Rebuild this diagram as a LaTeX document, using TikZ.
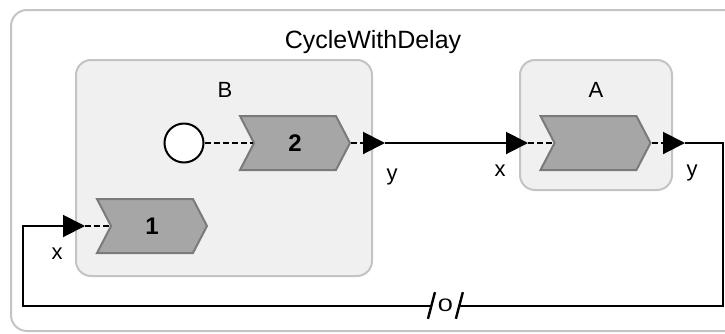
\documentclass[tikz,border=0pt]{standalone}
\usepackage{fontspec}
\setmainfont{Liberation Sans}
\usetikzlibrary{arrows.meta,shapes.symbols}
\definecolor{frame}{HTML}{C4C4C4}
\definecolor{boxfill}{HTML}{F0F0F0}
\definecolor{chevfill}{HTML}{A6A6A6}
\definecolor{chevline}{HTML}{7A7A7A}
\tikzset{
  wire/.style={line width=2pt, black},
  dwire/.style={wire, dash pattern=on 6pt off 3pt},
  porttip/.style={-{Triangle[length=22pt,width=22pt]}},
  container/.style={draw=frame, fill=boxfill, line width=2pt, rounded corners=15pt, inner sep=0pt},
  reaction/.style={signal, signal to=east, signal from=west, signal pointer angle=125,
    draw=chevline, fill=chevfill, line width=2pt, minimum width=110pt, minimum height=54pt,
    inner sep=0pt, font=\bfseries\fontsize{24}{24}\selectfont},
  lbl/.style={font=\fontsize{22}{22}\selectfont, inner sep=0pt},
}
\begin{document}
\begin{tikzpicture}[x=1pt,y=-1pt]
\useasboundingbox (0,0) rectangle (725,333);
% outer reactor
\draw[draw=frame, line width=2pt, rounded corners=16pt, fill=white] (11,10) rectangle (760,331);
\node[lbl, font=\fontsize{25}{25}\selectfont] (title) at (373,42) {CycleWithDelay};

% inner reactors
\node[container, minimum width=296pt, minimum height=216pt] (B) at (224,168) {};
\node[container, minimum width=152pt, minimum height=130pt] (A) at (596,125) {};
\node[lbl] (Bname) at (225,90) {B};
\node[lbl] (Aname) at (596,90) {A};

% startup trigger and reactions
\node[draw, circle, fill=white, line width=2pt, minimum size=39pt, inner sep=0pt] (start) at (184,143) {};
\node[reaction] (r2) at (295,143) {2};
\node[reaction] (r1) at (152,226) {1};
\node[reaction] (rA) at (595.5,143) {};

% port tips and corners
\coordinate (Bout) at (385,143);
\coordinate (Ain) at (528,143);
\coordinate (Aout) at (685,143);
\coordinate (in1) at (85,226);
\coordinate (turnR) at (723,143);
\coordinate (turnL) at (23,305.5);

% delay marker on the feedback connection
\node[fill=white, inner sep=0pt, minimum width=27.5pt, minimum height=20pt,
      font=\fontsize{18}{18}\selectfont] (dly) at (445.4,305.5) {\scalebox{1.5}[1]{0}};

% connections
\draw[dwire] (start) -- (r2.west);
\draw[dwire, porttip] (r2.east) -- (Bout);
\draw[wire, porttip] (Bout) -- (Ain);
\draw[dwire] (Ain) -- (rA.west);
\draw[dwire, porttip] (rA.east) -- (Aout);
\draw[wire] (Aout) -- (turnR) |- (dly.east);
\draw[wire, porttip] (dly.west) -- (turnL) |- (in1);
\draw[dwire] (in1) -- (r1.west);
\draw[wire, line width=2.4pt] ([shift={(-3.5,13.3)}]dly.west) -- ([shift={(3.5,-13.3)}]dly.west);
\draw[wire, line width=2.4pt] ([shift={(-3.5,13.3)}]dly.east) -- ([shift={(3.5,-13.3)}]dly.east);

% port labels
\node[lbl, anchor=base] (yB) at (392,180) {y};
\node[lbl, anchor=base] (xA) at (500,176) {x};
\node[lbl, anchor=base] (yA) at (692,176) {y};
\node[lbl, anchor=base] (x1) at (57,259) {x};
\end{tikzpicture}
\end{document}
